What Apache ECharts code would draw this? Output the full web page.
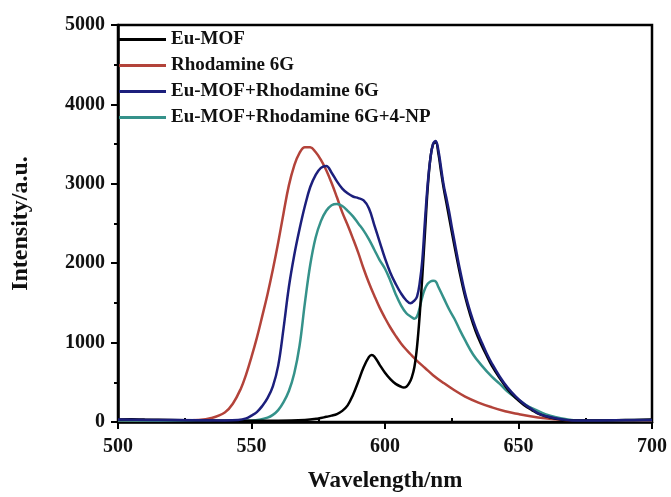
<!DOCTYPE html>
<html>
<head>
<meta charset="utf-8">
<script src="https://cdn.jsdelivr.net/npm/echarts@6/dist/echarts.min.js"></script>
<style>
  html, body { margin: 0; padding: 0; background: #fff; }
  #chart { width: 671px; height: 497px; }
</style>
</head>
<body>
<div id="chart"></div>
<script>
// Emission spectra (wavelength in nm, intensity in a.u.)
const seriesNames = ['Eu-MOF', 'Rhodamine 6G', 'Eu-MOF+Rhodamine 6G', 'Eu-MOF+Rhodamine 6G+4-NP'];

const euMofWl = [500,505,510,520,530,540,550,560,570,575,578,580,582,584,586,588,590,592,594,595,596,598,600,602,604,606,607,608,609,610,611,612,613,614,615,616,617,618,619,620,621,622,623,624,626,628,630,632,634,636,638,640,643,646,649,652,655,658,662,666,670,680,690,700];
const euMofI  = [30,35,30,25,20,15,15,15,25,45,65,80,100,140,210,340,510,690,820,845,825,720,620,540,480,445,435,445,485,560,690,950,1350,1850,2400,2950,3320,3500,3520,3380,3150,2940,2760,2580,2220,1880,1580,1340,1140,980,840,710,550,410,300,215,150,95,55,30,20,20,25,30];

const rhoWl = [500,510,520,530,535,540,543,546,548,550,552,554,556,558,560,562,564,566,568,570,572,574,576,578,580,582,584,586,588,590,592,594,596,598,600,602,604,606,608,610,612,615,618,622,626,630,635,640,645,650,655,660,665,670,680,690,700];
const rhoI  = [20,20,15,25,50,120,230,420,600,820,1060,1330,1610,1920,2260,2630,2980,3230,3390,3460,3460,3400,3300,3170,3010,2830,2640,2480,2310,2130,1930,1750,1590,1440,1310,1190,1085,990,910,840,770,680,590,490,400,320,245,185,135,100,70,48,32,22,15,20,20];

const mixWl = [500,520,540,545,548,550,552,554,556,558,560,562,564,566,568,570,572,574,576,578,580,582,584,586,588,590,592,594,596,598,600,602,604,606,608,609.5,611,612,613,614,615,616,617,618,619,620,621,622,623,624,625,626,627,628,630,632,634,636,638,640,643,646,649,652,655,658,662,666,670,680,700];
const mixI  = [30,25,20,25,45,80,125,200,300,450,710,1180,1700,2100,2430,2720,2960,3110,3200,3225,3140,3030,2940,2880,2840,2820,2790,2690,2480,2270,2060,1880,1740,1620,1530,1495,1530,1580,1750,2050,2550,3000,3320,3500,3540,3420,3200,2980,2820,2650,2460,2280,2100,1930,1620,1380,1180,1020,870,740,570,430,320,230,160,100,60,35,20,20,25];

const npWl = [500,540,550,553,556,558,560,562,564,566,568,570,572,574,576,578,580,582,584,586,588,590,592,594,596,598,600,602,604,606,608,610,611,612,613,614,615,616,617,618,619,620,622,624,626,628,630,633,636,640,643,646,650,653,656,660,664,668,672,680,700];
const npI  = [20,15,20,30,55,90,150,250,390,610,960,1500,1980,2320,2530,2660,2730,2745,2720,2660,2590,2500,2410,2300,2170,2040,1930,1780,1610,1470,1370,1320,1300,1330,1440,1580,1680,1740,1770,1780,1770,1700,1560,1420,1300,1160,1030,850,720,570,480,380,280,210,160,100,60,35,20,20,25];

const xTicks = [500, 550, 600, 650, 700];
const yTicks = [0, 1000, 2000, 3000, 4000, 5000];

const pairs = (xs, ys) => xs.map((x, i) => [x, ys[i]]);
const serif = '"Liberation Serif", "Times New Roman", serif';

const colors = ['#000000', '#b3433a', '#1c1f7c', '#35928a'];
const dataSets = [pairs(euMofWl, euMofI), pairs(rhoWl, rhoI), pairs(mixWl, mixI), pairs(npWl, npI)];
// stacking order of the curves (higher draws on top)
const zOrder = [4, 2, 5, 3];

const chart = echarts.init(document.getElementById('chart'), null, { renderer: 'canvas' });

chart.setOption({
  backgroundColor: '#ffffff',
  animation: false,
  grid: {
    left: 118, right: 19, top: 25, bottom: 75,
    outerBoundsMode: 'none',
    containLabel: false,
    show: true, borderColor: '#000', borderWidth: 2.5, backgroundColor: 'transparent'
  },
  legend: {
    orient: 'vertical',
    left: 119, top: 30, padding: 0,
    itemWidth: 47, itemHeight: 14, itemGap: 7,
    icon: 'path://M0,0 L47,0 L47,3 L0,3 Z',
    data: seriesNames,
    textStyle: { fontFamily: serif, fontWeight: 'bold', fontSize: 19, color: '#111' }
  },
  xAxis: {
    type: 'value',
    min: xTicks[0], max: xTicks[xTicks.length - 1], interval: 50,
    name: 'Wavelength/nm', nameLocation: 'middle', nameGap: 48,
    nameTextStyle: { fontFamily: serif, fontWeight: 'bold', fontSize: 23, color: '#111' },
    axisLine: { lineStyle: { color: '#000', width: 2.5 } },
    axisTick: { show: true, length: 7, lineStyle: { color: '#000', width: 2 } },
    minorTick: { show: true, splitNumber: 2, length: -4, lineStyle: { color: '#000', width: 2 } },
    axisLabel: { fontFamily: serif, fontWeight: 'bold', fontSize: 20, color: '#111', margin: 15 },
    splitLine: { show: false }
  },
  yAxis: {
    type: 'value',
    min: yTicks[0], max: yTicks[yTicks.length - 1], interval: 1000,
    name: 'Intensity/a.u.', nameLocation: 'middle', nameGap: 85,
    nameTextStyle: { fontFamily: serif, fontWeight: 'bold', fontSize: 24, color: '#111' },
    axisLine: { lineStyle: { color: '#000', width: 2.5 } },
    axisTick: { show: true, length: 7, lineStyle: { color: '#000', width: 2 } },
    minorTick: { show: true, splitNumber: 2, length: 4, lineStyle: { color: '#000', width: 2 } },
    axisLabel: {
      fontFamily: serif, fontWeight: 'bold', fontSize: 20, color: '#111', margin: 13,
      formatter: v => String(v)
    },
    splitLine: { show: false }
  },
  series: seriesNames.map((name, i) => ({
    name: name,
    type: 'line',
    data: dataSets[i],
    symbol: 'none',
    smooth: 0.4,
    z: zOrder[i],
    color: colors[i],
    lineStyle: { color: colors[i], width: 2.5 }
  }))
});
</script>
</body>
</html>
